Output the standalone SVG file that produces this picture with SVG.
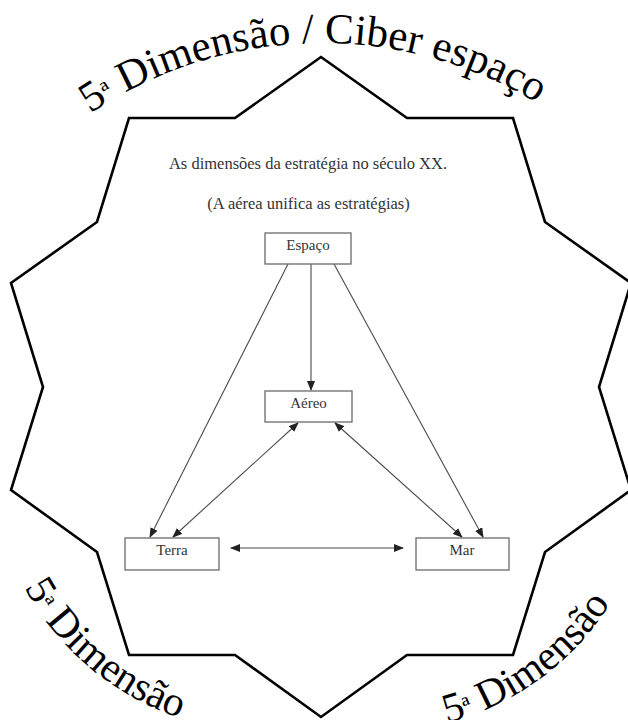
<svg xmlns="http://www.w3.org/2000/svg" xmlns:xlink="http://www.w3.org/1999/xlink" width="628" height="720" viewBox="0 0 628 720">
<style>
.star{fill:#fff;stroke:#000;stroke-width:2.6;stroke-linejoin:miter}
.arc{font-size:43px;fill:#000}
.arcb{font-size:41.5px;fill:#000}
.title{font-size:16.5px;fill:#333;text-anchor:middle}
.box{fill:#fff;stroke:#6a6a6a;stroke-width:1.3}
.lbl{font-size:15px;fill:#333;text-anchor:middle}
.con{stroke:#4a4a4a;stroke-width:1.1;fill:none}
</style>
<defs>
<marker id="ah" markerUnits="userSpaceOnUse" markerWidth="10" markerHeight="8" refX="9" refY="4" orient="auto-start-reverse" viewBox="0 0 10 8">
<path d="M0,0 L10,4 L0,8 Z" fill="#222"/>
</marker>
<path id="topArc" d="M -93 458 A 415 415 0 0 1 737 458"/>
<path id="botArcL" d="M -9 456 A 276 276 0 0 0 543 456"/>
<path id="botArcR" d="M 101 456 A 276 276 0 0 0 653 456"/>
</defs>
<rect width="628" height="720" fill="#fff"/>
<g id="star">
<polygon class="star" points="321,57 407,118 513,118 545,222 631,283 599,387 631,490 545,552 513,655 407,655 321,717 235,655 129,655 97,552 11,490 43,387 11,283 97,222 129,118 235,118"/>
</g>
<g id="arc-texts" font-family="Liberation Serif, DejaVu Serif, serif">
<text class="arc"><textPath xlink:href="#topArc" href="#topArc" startOffset="406">5<tspan font-size="30">ª</tspan> Dimensão / Ciber espaço</textPath></text>
<text class="arcb"><textPath xlink:href="#botArcL" href="#botArcL" startOffset="137">5<tspan font-size="29">ª</tspan> Dimensão</textPath></text>
<text class="arcb"><textPath xlink:href="#botArcR" href="#botArcR" startOffset="504">5<tspan font-size="29">ª</tspan> Dimensão</textPath></text>
</g>
<g id="titles" font-family="Liberation Serif, DejaVu Serif, serif">
<text class="title" x="308" y="169">As dimensões da estratégia no século XX.</text>
<text class="title" x="308.5" y="209">(A aérea unifica as estratégias)</text>
</g>
<g id="connectors">
<line class="con" x1="311" y1="264" x2="311" y2="390" marker-end="url(#ah)"/>
<line class="con" x1="288" y1="264" x2="150" y2="537" marker-end="url(#ah)"/>
<line class="con" x1="334" y1="264" x2="483" y2="537" marker-end="url(#ah)"/>
<line class="con" x1="298" y1="423" x2="173" y2="537" marker-start="url(#ah)" marker-end="url(#ah)"/>
<line class="con" x1="335" y1="423" x2="462" y2="537" marker-start="url(#ah)" marker-end="url(#ah)"/>
<line class="con" x1="231" y1="548" x2="403" y2="548" marker-start="url(#ah)" marker-end="url(#ah)"/>
</g>
<g id="node-espaco" font-family="Liberation Serif, DejaVu Serif, serif">
<rect class="box" x="265" y="233" width="86" height="31"/>
<text class="lbl" x="308" y="249.5">Espaço</text>
</g>
<g id="node-aereo" font-family="Liberation Serif, DejaVu Serif, serif">
<rect class="box" x="265" y="391" width="87" height="31"/>
<text class="lbl" x="308.5" y="407.5">Aéreo</text>
</g>
<g id="node-terra" font-family="Liberation Serif, DejaVu Serif, serif">
<rect class="box" x="125" y="538" width="94" height="32"/>
<text class="lbl" x="172" y="555">Terra</text>
</g>
<g id="node-mar" font-family="Liberation Serif, DejaVu Serif, serif">
<rect class="box" x="416" y="538" width="93" height="32"/>
<text class="lbl" x="462" y="555">Mar</text>
</g>
</svg>
